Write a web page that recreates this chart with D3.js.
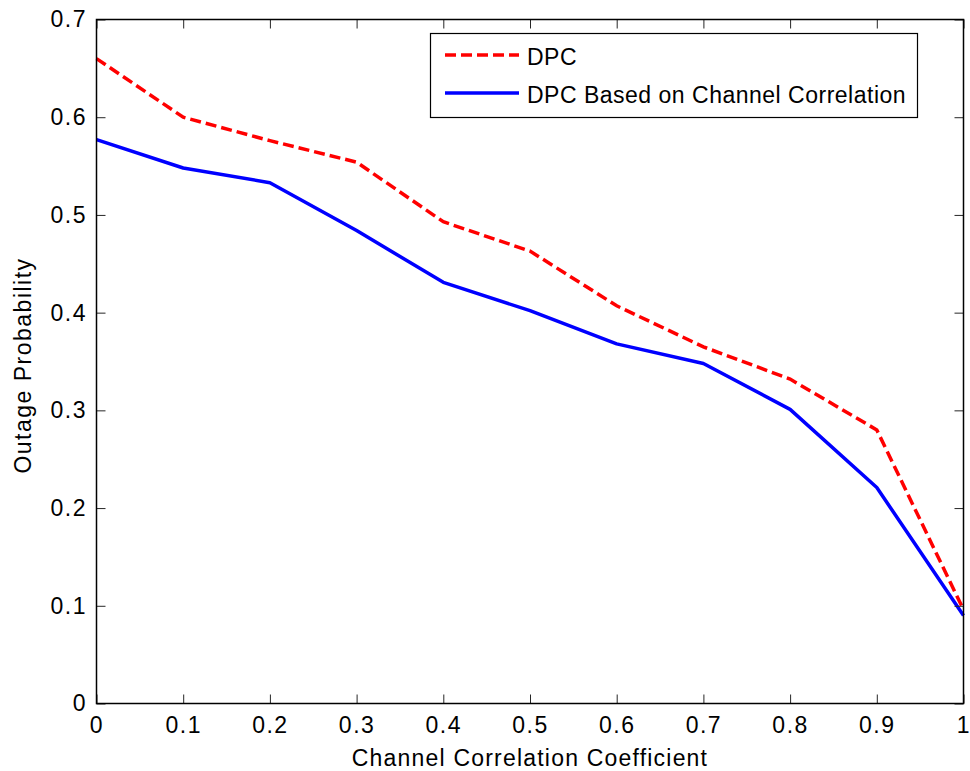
<!DOCTYPE html>
<html>
<head>
<meta charset="utf-8">
<script src="https://cdn.jsdelivr.net/npm/d3@7"></script>
<style>
  body { margin: 0; background: #fff; }
  svg { display: block; font-family: "Liberation Sans", Arial, sans-serif; }
</style>
</head>
<body>
<svg id="chart" width="970" height="771"></svg>
<script>
const xValues = [0, 0.1, 0.2, 0.3, 0.4, 0.5, 0.6, 0.7, 0.8, 0.9, 1.0];
const dpc = [0.660, 0.600, 0.576, 0.554, 0.493, 0.463, 0.407, 0.365, 0.332, 0.280, 0.096];
const dpcCorr = [0.577, 0.548, 0.533, 0.484, 0.431, 0.402, 0.368, 0.348, 0.301, 0.221, 0.090];
const xTicks = [0, 0.1, 0.2, 0.3, 0.4, 0.5, 0.6, 0.7, 0.8, 0.9, 1];
const yTicks = [0, 0.1, 0.2, 0.3, 0.4, 0.5, 0.6, 0.7];
const seriesNames = ["DPC", "DPC Based on Channel Correlation"];
const xLabel = "Channel Correlation Coefficient";
const yLabel = "Outage Probability";

const svg = d3.select("#chart");
const L = 96.5, R = 963.5, T = 19.5, B = 703.5;
const x = d3.scaleLinear().domain([0, 1]).range([L, R]);
const y = d3.scaleLinear().domain([0, 0.7]).range([B, T]);
const tickLen = 9;
const fmt = d => d === 0 ? "0" : (d === 1 ? "1" : d3.format(".1f")(d));

// series
const line = d3.line().x((d, i) => x(xValues[i])).y(d => y(d));
svg.append("path").datum(dpcCorr).attr("d", line)
  .attr("fill", "none").attr("stroke", "#0000ff").attr("stroke-width", 3.5)
  .attr("stroke-linejoin", "round");
svg.append("path").datum(dpc).attr("d", line)
  .attr("fill", "none").attr("stroke", "#ff0000").attr("stroke-width", 3.5)
  .attr("stroke-dasharray", "11,5");

// axes (inner ticks, mirrored)
const axB = d3.axisBottom(x).tickValues(xTicks).tickSize(-tickLen).tickPadding(13).tickFormat(fmt);
const axT = d3.axisTop(x).tickValues(xTicks).tickSize(-tickLen).tickFormat("");
const axL = d3.axisLeft(y).tickValues(yTicks).tickSize(-tickLen).tickPadding(9.5).tickFormat(fmt);
const axR = d3.axisRight(y).tickValues(yTicks).tickSize(-tickLen).tickFormat("");

function style(g) {
  g.select(".domain").remove();
  g.selectAll(".tick line").attr("stroke", "#262626").attr("stroke-width", 1);
  g.selectAll(".tick text").attr("fill", "#000").style("font-size", "23px")
    .style("letter-spacing", "1.5px")
    .style("font-family", '"Liberation Sans", Arial, sans-serif');
}
svg.append("g").attr("transform", `translate(0,${B})`).call(axB).call(style);
svg.append("g").attr("transform", `translate(0,${T})`).call(axT).call(style);
svg.append("g").attr("transform", `translate(${L},0)`).call(axL).call(style);
svg.append("g").attr("transform", `translate(${R},0)`).call(axR).call(style);

// box
svg.append("rect").attr("x", L).attr("y", T).attr("width", R - L).attr("height", B - T)
  .attr("fill", "none").attr("stroke", "#000").attr("stroke-width", 1.5);

// axis labels
svg.append("text").attr("x", (L + R) / 2).attr("y", 766).attr("text-anchor", "middle")
  .style("font-size", "23px").style("letter-spacing", "1.2px").text(xLabel);
svg.append("text").attr("transform", `translate(31,${(T + B) / 2 + 4}) rotate(-90)`)
  .attr("text-anchor", "middle").style("font-size", "23px").style("letter-spacing", "1.5px").text(yLabel);

// legend
const lg = svg.append("g");
lg.append("rect").attr("x", 430.5).attr("y", 33.5).attr("width", 487).attr("height", 84)
  .attr("fill", "#fff").attr("stroke", "#000").attr("stroke-width", 1.2);
const legendRows = [
  { name: seriesNames[0], color: "#ff0000", dash: "11,5", y: 55 },
  { name: seriesNames[1], color: "#0000ff", dash: null, y: 93 }
];
legendRows.forEach(r => {
  lg.append("line").attr("x1", 445).attr("x2", 519).attr("y1", r.y).attr("y2", r.y)
    .attr("stroke", r.color).attr("stroke-width", 3.5)
    .attr("stroke-dasharray", r.dash);
  lg.append("text").attr("x", 527).attr("y", r.y + 9.5).style("font-size", "23px")
    .style("letter-spacing", "0.5px").text(r.name);
});
</script>
</body>
</html>
